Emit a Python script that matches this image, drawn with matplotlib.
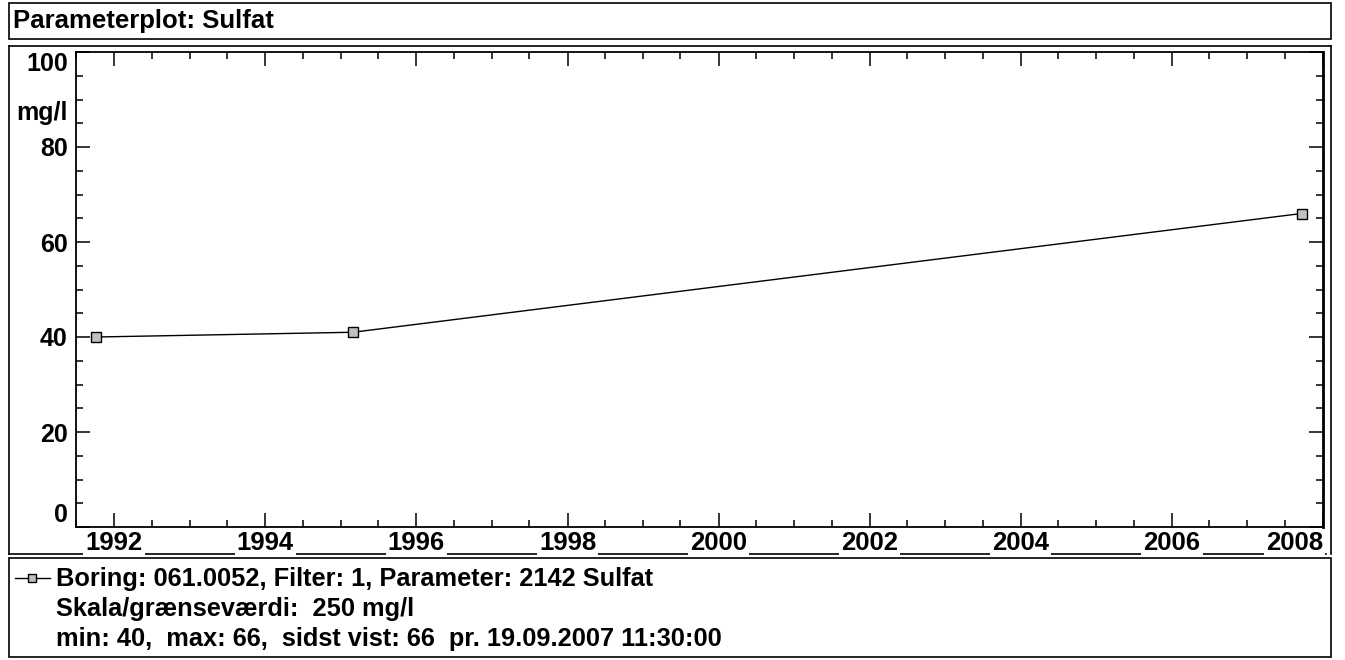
import datetime as dt
import matplotlib
matplotlib.use("Agg")
import matplotlib.pyplot as plt
import matplotlib.dates as mdates
from matplotlib.ticker import MultipleLocator
from matplotlib.lines import Line2D
from matplotlib.patches import Rectangle

plt.rcParams['font.family'] = ['Liberation Sans', 'DejaVu Sans']
plt.rcParams['font.weight'] = 'bold'

# measurements (Sulfat, mg/l)
dates = [dt.datetime(1991, 10, 8), dt.datetime(1995, 3, 1), dt.datetime(2007, 9, 19, 11, 30)]
values = [40, 41, 66]

title = "Parameterplot: Sulfat"
unit = "mg/l"
legend_lines = ["Boring: 061.0052, Filter: 1, Parameter: 2142 Sulfat",
                "Skala/grænseværdi:  250 mg/l",
                "min: 40,  max: 66,  sidst vist: 66  pr. 19.09.2007 11:30:00"]
year_ticks = list(range(1992, 2009, 2))
y_ticks = [0, 20, 40, 60, 80, 100]

W, H = 1345, 660
fig = plt.figure(figsize=(W / 100, H / 100), dpi=100)
fig.patch.set_facecolor('white')


def fx(x):
    return x / W


def fy(y):
    return 1 - y / H


# title box
fig.add_artist(Rectangle((fx(9), fy(39)), fx(1331) - fx(9), fy(3) - fy(39),
                         transform=fig.transFigure, fill=False, ec='black', lw=1.2))
fig.text(fx(13), fy(21), title, fontsize=18.5, fontweight='bold', va='center', ha='left')

# plot box (bottom edge is the "underscore" line behind the year labels)
frame = [((9, 9), (554, 46)), ((9, 1331), (46, 46)), ((1331, 1331), (46, 554)), ((9, 1326), (554, 554))]
for xs, ys in frame:
    fig.add_artist(Line2D([fx(v) for v in xs], [fy(v) for v in ys], transform=fig.transFigure,
                          color='black', lw=1.2, zorder=-1))

ax = fig.add_axes([fx(76), fy(527), fx(1323) - fx(76), fy(52) - fy(527)])
ax.plot(dates, values, color='black', lw=1.0, marker='s', markersize=6.5,
        markerfacecolor='#c0c0c0', markeredgecolor='black', markeredgewidth=1.0)

ax.set_xlim(dt.datetime(1991, 7, 1), dt.datetime(2008, 1, 1))
ax.set_ylim(0, 100)
ax.set_xticks([dt.datetime(y, 1, 1) for y in year_ticks], [str(y) for y in year_ticks])
ax.xaxis.set_minor_locator(mdates.MonthLocator(bymonth=[1, 7]))
ax.set_yticks(y_ticks, [str(v) for v in y_ticks])
ax.yaxis.set_minor_locator(MultipleLocator(5))

ax.tick_params(which='both', direction='in', top=True, right=True, width=1.1, colors='black')
ax.tick_params(which='major', length=10)
ax.tick_params(which='minor', length=5)
ax.tick_params(axis='x', which='major', labelsize=18.5, pad=3)
ax.tick_params(axis='y', which='major', labelsize=18, pad=6)
for lab in ax.get_xticklabels():
    lab.set_fontweight('bold')
    lab.set_bbox(dict(facecolor='white', edgecolor='none', pad=1.5))
ax.get_xticklabels()[-1].set_ha('right')
for lab in ax.get_yticklabels():
    lab.set_fontweight('bold')
ax.get_yticklabels()[0].set_va('bottom')
ax.get_yticklabels()[-1].set_va('top')
for side in ['left', 'bottom', 'top']:
    ax.spines[side].set_linewidth(1.3)
ax.spines['right'].set_linewidth(2)

ax.text(-8 / (1323 - 76), (527 - 113) / (527 - 52), unit, transform=ax.transAxes,
        ha='right', va='center', fontsize=18, fontweight='bold')

# legend box
fig.add_artist(Rectangle((fx(9), fy(657)), fx(1331) - fx(9), fy(558) - fy(657),
                         transform=fig.transFigure, fill=False, ec='black', lw=1.2))
fig.add_artist(Line2D([fx(15), fx(50)], [fy(578), fy(578)], transform=fig.transFigure,
                      color='black', lw=1.0))
fig.add_artist(Line2D([fx(32)], [fy(578)], transform=fig.transFigure, marker='s',
                      markersize=6, markerfacecolor='#c0c0c0', markeredgecolor='black',
                      markeredgewidth=1.0, lw=0))
for i, line in enumerate(legend_lines):
    fig.text(fx(56), fy(579 + 30 * i), line, fontsize=18.3, fontweight='bold',
             ha='left', va='center')

fig.savefig("out.png", dpi=100)
